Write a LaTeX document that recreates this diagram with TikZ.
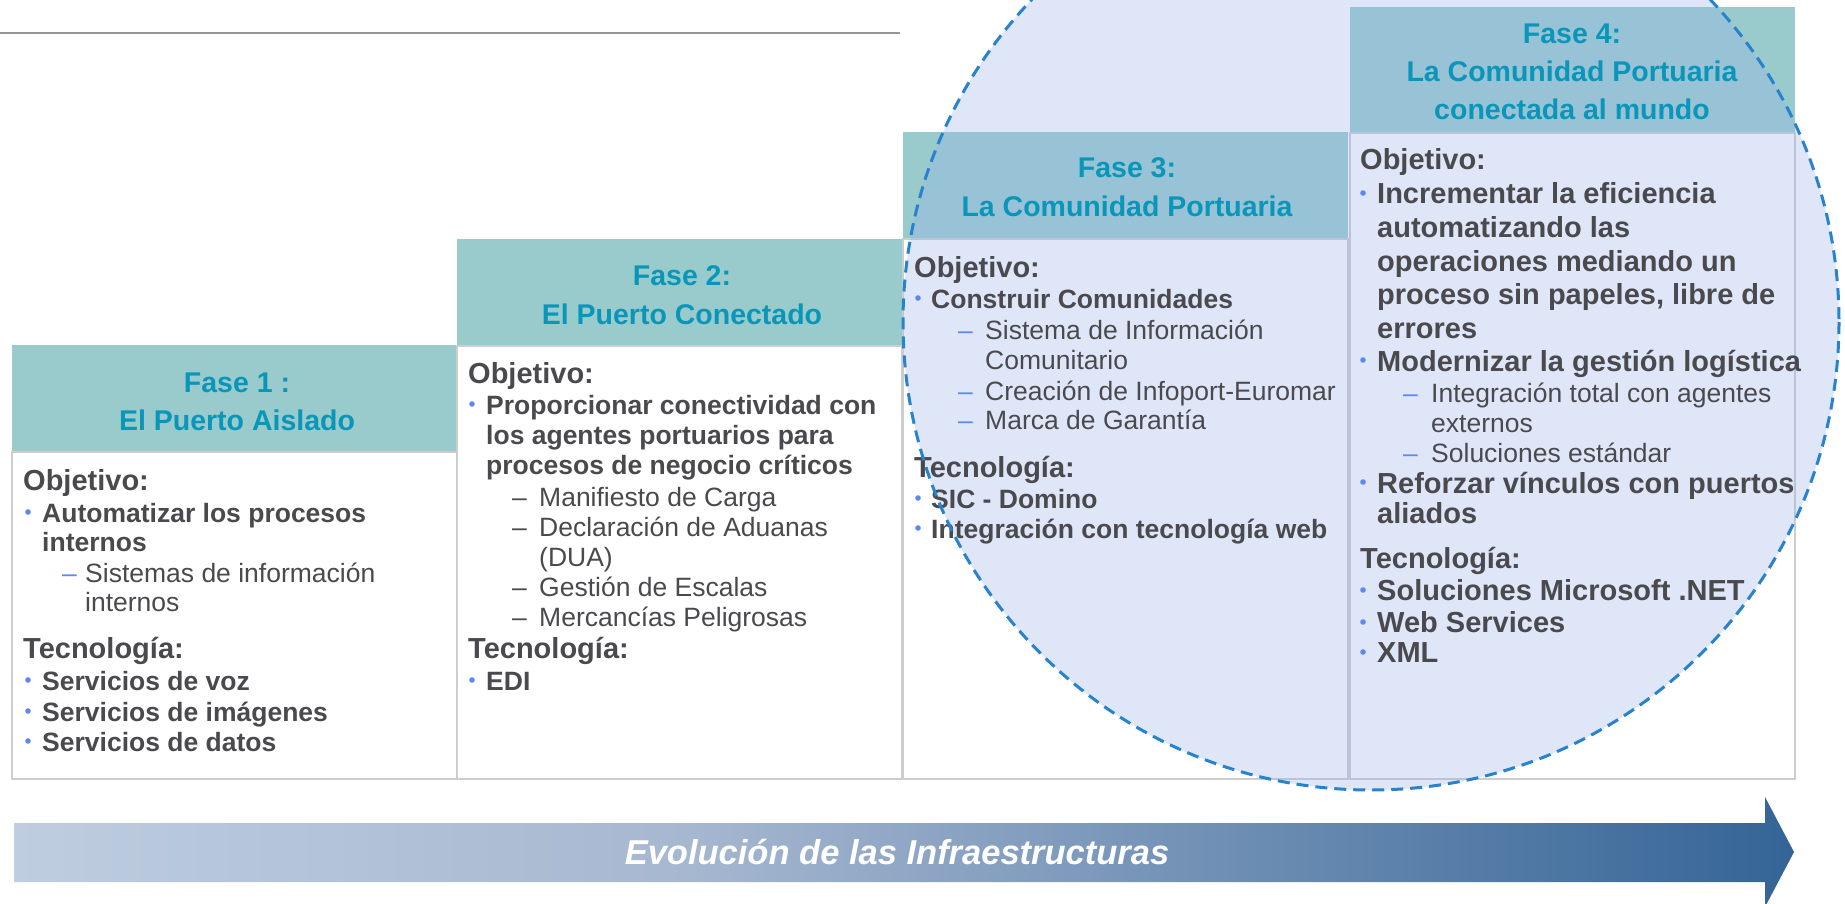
\documentclass[tikz,border=0pt]{standalone}
\usepackage{fontspec}
\setmainfont{Liberation Sans}
\definecolor{hdr}{RGB}{154,203,204}
\definecolor{hdrtxt}{RGB}{10,150,185}
\definecolor{bodytxt}{RGB}{74,74,78}
\definecolor{bul}{RGB}{95,135,240}
\definecolor{brd}{RGB}{205,205,205}
\definecolor{circline}{RGB}{40,130,205}
\definecolor{circfill}{RGB}{150,175,235}
\definecolor{evoA}{RGB}{190,205,223}
\definecolor{evoB}{RGB}{166,183,208}
\definecolor{evoC}{RGB}{52,100,150}
\definecolor{topline}{RGB}{150,150,150}
\pgfdeclarehorizontalshading{evo}{100bp}{color(0bp)=(evoA); color(25bp)=(evoA); color(44bp)=(evoB); color(75bp)=(evoC); color(100bp)=(evoC)}
\newcommand{\phl}[5]{\node[#4] (#1) at (#2,#3) {#5};}
\newcommand{\phb}[2]{\fill[bul] (#1,#2) circle (2.8);}
\begin{document}
\begin{tikzpicture}[x=1pt,y=-1pt,
  hdrbox/.style={fill=hdr},
  bodybox/.style={draw=brd, line width=2.5pt, fill=white},
  htxt/.style={text=hdrtxt, font=\fontsize{28.5}{30}\selectfont\bfseries, anchor=base, inner sep=0pt},
  headt/.style={text=bodytxt, font=\fontsize{29}{30}\selectfont\bfseries, anchor=base west, inner sep=0pt},
  btxt/.style={text=bodytxt, font=\fontsize{26.5}{30}\selectfont\bfseries, anchor=base west, inner sep=0pt},
  bbtxt/.style={text=bodytxt, font=\fontsize{29}{30}\selectfont\bfseries, anchor=base west, inner sep=0pt},
  stxt/.style={text=bodytxt, font=\fontsize{26.5}{30}\selectfont, anchor=base west, inner sep=0pt},
  bdash/.style={text=bul, font=\fontsize{26.5}{30}\selectfont, anchor=base west, inner sep=0pt},
  gdash/.style={text=bodytxt, font=\fontsize{26.5}{30}\selectfont, anchor=base west, inner sep=0pt},
  evotxt/.style={text=white, font=\fontsize{34.5}{36}\selectfont\bfseries\itshape, anchor=base, inner sep=0pt}]
\useasboundingbox (0,0) rectangle (1845,904);
\fill[white] (0,0) rectangle (1845,904);
% top rule
\draw[topline, line width=2.5pt] (0,33) -- (900,33);
% headers
\fill[hdrbox] (12,345) rectangle (457,452);
\fill[hdrbox] (457,239) rectangle (902,346);
\fill[hdrbox] (903,132) rectangle (1348,239);
\fill[hdrbox] (1350,7) rectangle (1795,133);
% bodies
\draw[bodybox] (12,452) rectangle (457,779);
\draw[bodybox] (457,346) rectangle (902,779);
\draw[bodybox] (903,239) rectangle (1348,779);
\draw[bodybox] (1350,133) rectangle (1795,779);
% highlight circle fill
\fill[circfill, fill opacity=0.3] (1371,322) circle (468);
% header texts
\phl{h1a}{237}{392}{htxt}{Fase 1 :}
\phl{h1b}{237}{430}{htxt}{El Puerto Aislado}
\phl{h2a}{682}{285}{htxt}{Fase 2:}
\phl{h2b}{682}{324}{htxt}{El Puerto Conectado}
\phl{h3a}{1127}{178}{htxt}{Fase 3:}
\phl{h3b}{1127}{217}{htxt}{La Comunidad Portuaria}
\phl{h4a}{1572}{44}{htxt}{Fase 4:}
\phl{h4b}{1572}{82}{htxt}{La Comunidad Portuaria}
\phl{h4c}{1572}{120}{htxt}{conectada al mundo}
% Fase 1 body
\phl{a1}{23}{490}{headt}{Objetivo:}
\phb{28}{512}
\phl{a2}{42}{522}{btxt}{Automatizar los procesos}
\phl{a3}{42}{551}{btxt}{internos}
\phl{a4d}{62}{582}{bdash}{–}
\phl{a4}{85}{582}{stxt}{Sistemas de información}
\phl{a5}{85}{611}{stxt}{internos}
\phl{a6}{23}{658}{headt}{Tecnología:}
\phb{28}{680}
\phl{a7}{42}{690}{btxt}{Servicios de voz}
\phb{28}{711}
\phl{a8}{42}{721}{btxt}{Servicios de imágenes}
\phb{28}{741}
\phl{a9}{42}{751}{btxt}{Servicios de datos}
% Fase 2 body
\phl{b1}{468}{383}{headt}{Objetivo:}
\phb{472}{404}
\phl{b2}{486}{414}{btxt}{Proporcionar conectividad con}
\phl{b3}{486}{444}{btxt}{los agentes portuarios para}
\phl{b4}{486}{474}{btxt}{procesos de negocio críticos}
\phl{b5d}{512}{506}{gdash}{–}
\phl{b5}{539}{506}{stxt}{Manifiesto de Carga}
\phl{b6d}{512}{536}{gdash}{–}
\phl{b6}{539}{536}{stxt}{Declaración de Aduanas}
\phl{b7}{539}{566}{stxt}{(DUA)}
\phl{b8d}{512}{596}{gdash}{–}
\phl{b8}{539}{596}{stxt}{Gestión de Escalas}
\phl{b9d}{512}{626}{gdash}{–}
\phl{b9}{539}{626}{stxt}{Mercancías Peligrosas}
\phl{b10}{468}{658}{headt}{Tecnología:}
\phb{472}{680}
\phl{b11}{486}{690}{btxt}{EDI}
% Fase 3 body
\phl{c1}{914}{277}{headt}{Objetivo:}
\phb{918}{298}
\phl{c2}{931}{308}{btxt}{Construir Comunidades}
\phl{c3d}{958}{339}{bdash}{–}
\phl{c3}{985}{339}{stxt}{Sistema de Información}
\phl{c4}{985}{369}{stxt}{Comunitario}
\phl{c5d}{958}{400}{bdash}{–}
\phl{c5}{985}{400}{stxt}{Creación de Infoport-Euromar}
\phl{c6d}{958}{429}{bdash}{–}
\phl{c6}{985}{429}{stxt}{Marca de Garantía}
\phl{c7}{914}{477}{headt}{Tecnología:}
\phb{918}{498}
\phl{c8}{931}{508}{btxt}{SIC - Domino}
\phb{918}{528}
\phl{c9}{931}{538}{btxt}{Integración con tecnología web}
% Fase 4 body
\phl{d1}{1360}{170}{headt}{Objetivo:}
\phb{1363}{193}
\phl{d2}{1377}{204}{bbtxt}{Incrementar la eficiencia}
\phl{d3}{1377}{238}{bbtxt}{automatizando las}
\phl{d4}{1377}{272}{bbtxt}{operaciones mediando un}
\phl{d5}{1377}{305}{bbtxt}{proceso sin papeles, libre de}
\phl{d6}{1377}{338}{bbtxt}{errores}
\phb{1363}{360}
\phl{d7}{1377}{371}{bbtxt}{Modernizar la gestión logística}
\phl{d8d}{1403}{402}{bdash}{–}
\phl{d8}{1431}{402}{stxt}{Integración total con agentes}
\phl{d9}{1431}{432}{stxt}{externos}
\phl{d10d}{1403}{462}{bdash}{–}
\phl{d10}{1431}{462}{stxt}{Soluciones estándar}
\phb{1363}{482}
\phl{d11}{1377}{493}{bbtxt}{Reforzar vínculos con puertos}
\phl{d12}{1377}{523}{bbtxt}{aliados}
\phl{d13}{1360}{568}{headt}{Tecnología:}
\phb{1363}{590}
\phl{d14}{1377}{600}{bbtxt}{Soluciones Microsoft .NET}
\phb{1363}{622}
\phl{d15}{1377}{632}{bbtxt}{Web Services}
\phb{1363}{652}
\phl{d16}{1377}{662}{bbtxt}{XML}
% highlight circle outline
\draw[circline, line width=3pt, dash pattern=on 12pt off 7pt] (1371,322) circle (468);
% evolution arrow
\shade[shading=evo] (14,823) -- (1765,823) -- (1765,797) -- (1794,852) -- (1765,907) -- (1765,882) -- (14,882) -- cycle;
\phl{evo}{897}{864}{evotxt}{Evolución de las Infraestructuras}
\end{tikzpicture}
\end{document}
